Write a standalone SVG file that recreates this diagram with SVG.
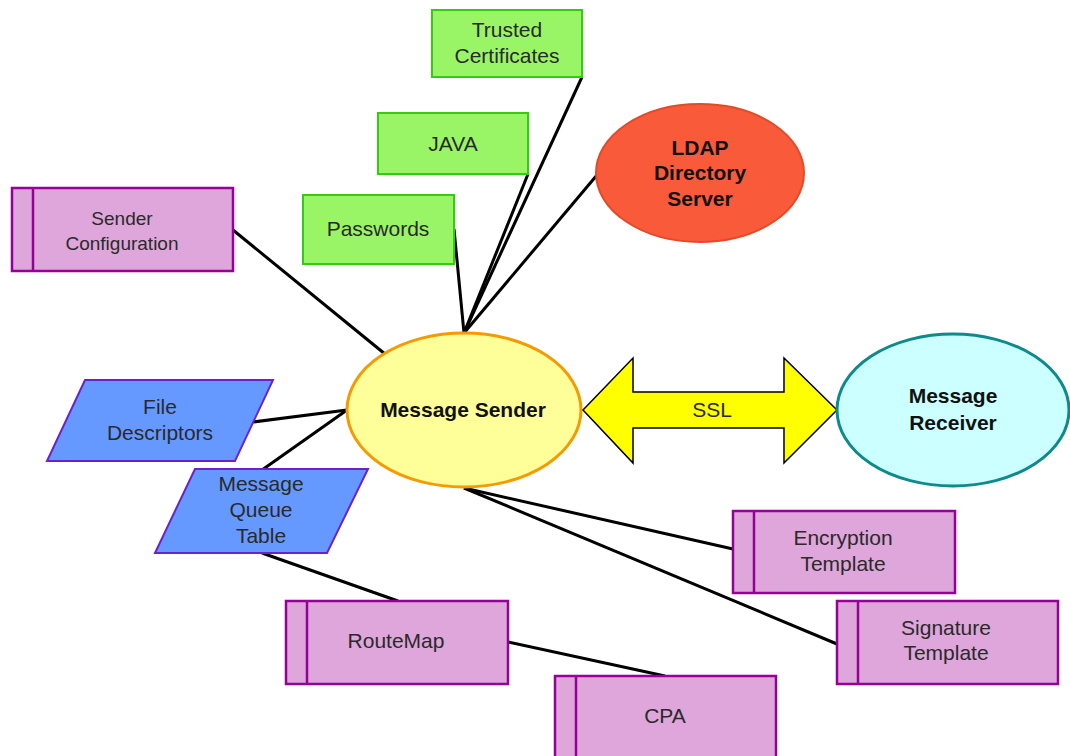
<svg xmlns="http://www.w3.org/2000/svg" width="1070" height="756" viewBox="0 0 1070 756">
<style>
text{font-family:"Liberation Sans",Arial,sans-serif;font-size:21px;fill:#2a2a2a;text-anchor:middle}
.b{font-weight:bold;fill:#111}
.green{fill:#99f566;stroke:#33cc11;stroke-width:2}
.pink{fill:#dea6da;stroke:#960096;stroke-width:2.5}
.blue{fill:#6699ff;stroke:#6a22cc;stroke-width:2}
.conn line{stroke:#000;stroke-width:3}
</style>
<rect width="1070" height="756" fill="#fff"/>
<g class="conn">
<line x1="233" y1="230" x2="385" y2="354"/>
<line x1="582" y1="77" x2="464" y2="333"/>
<line x1="528" y1="174" x2="464" y2="333"/>
<line x1="454" y1="229" x2="464" y2="333"/>
<line x1="597" y1="175" x2="464" y2="333"/>
<line x1="253" y1="422" x2="347" y2="410"/>
<line x1="262" y1="470" x2="347" y2="410"/>
<line x1="262" y1="553" x2="398" y2="601"/>
<line x1="508" y1="642" x2="665" y2="676"/>
<line x1="464" y1="488" x2="733" y2="549"/>
<line x1="464" y1="488" x2="837" y2="644"/>
</g>
<g id="sender-config">
<rect class="pink" x="12" y="188" width="221" height="83"/>
<line x1="33" y1="188" x2="33" y2="271" stroke="#960096" stroke-width="2.5"/>
<text x="122" y="225" style="font-size:19px">Sender</text>
<text x="122" y="250" style="font-size:19px">Configuration</text>
</g>
<g id="trusted-certificates">
<rect class="green" x="432" y="10" width="150" height="67"/>
<text x="507" y="37">Trusted</text>
<text x="507" y="63">Certificates</text>
</g>
<g id="java">
<rect class="green" x="378" y="113" width="150" height="61"/>
<text x="453" y="151">JAVA</text>
</g>
<g id="passwords">
<rect class="green" x="303" y="195" width="151" height="69"/>
<text x="378" y="236">Passwords</text>
</g>
<g id="ldap">
<ellipse cx="700" cy="173" rx="104" ry="69" fill="#f95a3a" stroke="#e24a28" stroke-width="2"/>
<text class="b" x="700" y="155">LDAP</text>
<text class="b" x="700" y="180">Directory</text>
<text class="b" x="700" y="206">Server</text>
</g>
<g id="message-sender">
<ellipse cx="464" cy="410" rx="117" ry="77" fill="#ffff99" stroke="#f59a00" stroke-width="3"/>
<text class="b" x="463" y="417">Message Sender</text>
</g>
<g id="ssl">
<polygon points="583,410 633,358 633,392 784,392 784,358 837,410 784,463 784,428 633,428 633,463" fill="#ffff00" stroke="#000" stroke-width="1.5"/>
<text x="712" y="417">SSL</text>
</g>
<g id="message-receiver">
<ellipse cx="953" cy="410" rx="116" ry="76" fill="#ccffff" stroke="#0e8a8a" stroke-width="3"/>
<text class="b" x="953" y="403">Message</text>
<text class="b" x="953" y="430">Receiver</text>
</g>
<g id="file-descriptors">
<polygon class="blue" points="85,380 273,380 235,461 47,461"/>
<text x="160" y="414">File</text>
<text x="160" y="440">Descriptors</text>
</g>
<g id="message-queue-table">
<polygon class="blue" points="195,469 368,469 327,553 155,553"/>
<text x="261" y="491">Message</text>
<text x="261" y="517">Queue</text>
<text x="261" y="543">Table</text>
</g>
<g id="encryption-template">
<rect class="pink" x="733" y="511" width="222" height="82"/>
<line x1="754" y1="511" x2="754" y2="593" stroke="#960096" stroke-width="2.5"/>
<text x="843" y="545">Encryption</text>
<text x="843" y="571">Template</text>
</g>
<g id="signature-template">
<rect class="pink" x="837" y="601" width="221" height="83"/>
<line x1="858" y1="601" x2="858" y2="684" stroke="#960096" stroke-width="2.5"/>
<text x="946" y="635">Signature</text>
<text x="946" y="660">Template</text>
</g>
<g id="routemap">
<rect class="pink" x="286" y="601" width="222" height="83"/>
<line x1="307" y1="601" x2="307" y2="684" stroke="#960096" stroke-width="2.5"/>
<text x="396" y="648">RouteMap</text>
</g>
<g id="cpa">
<rect class="pink" x="555" y="676" width="221" height="90"/>
<line x1="576" y1="676" x2="576" y2="766" stroke="#960096" stroke-width="2.5"/>
<text x="665" y="723">CPA</text>
</g>
</svg>
